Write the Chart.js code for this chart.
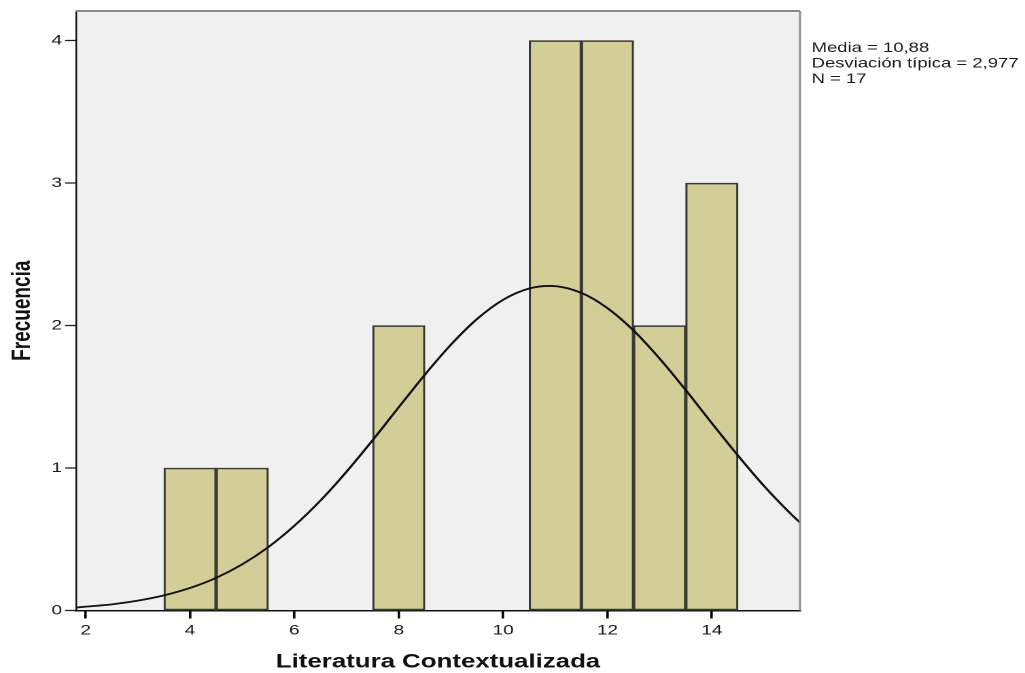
<!DOCTYPE html>
<html>
<head>
<meta charset="utf-8">
<script src="https://cdn.jsdelivr.net/npm/chart.js@4.4.1/dist/chart.umd.min.js"></script>
<style>
html,body{margin:0;padding:0;background:#ffffff;overflow:hidden;}
canvas{display:block;}
</style>
</head>
<body>
<canvas id="c" width="754" height="673" style="width:1025px;height:673px;"></canvas>
<script>
// ---- data ----
const binCenters = [4, 5, 8, 11, 12, 13, 14];
const frequencies = [1, 1, 2, 4, 4, 2, 3];
const curveX = [1.8, 2, 2.5, 3, 3.5, 4, 4.5, 5, 5.5, 6, 6.5, 7, 7.5, 8, 8.5, 9, 9.5, 10, 10.5, 10.9, 11.5, 12, 12.5, 13, 13.5, 14, 14.5, 15, 15.5, 15.7];
const curveY = [0.02, 0.027, 0.043, 0.069, 0.106, 0.158, 0.229, 0.324, 0.445, 0.595, 0.772, 0.975, 1.196, 1.427, 1.655, 1.866, 2.046, 2.181, 2.260, 2.278, 2.229, 2.122, 1.965, 1.768, 1.547, 1.315, 1.088, 0.874, 0.683, 0.614];
const xTickValues = [2, 4, 6, 8, 10, 12, 14];
const yTickValues = [0, 1, 2, 3, 4];
const xRange = [1.814, 15.69];
const yRange = [0, 4.208];
const statsLines = ['Media = 10,88', 'Desviación típica = 2,977', 'N = 17'];
const xTitle = 'Literatura Contextualizada';
const yTitle = 'Frecuencia';

const barData = binCenters.map((x, i) => ({x: x, y: frequencies[i]}));
const curveData = curveX.map((x, i) => ({x: x, y: curveY[i]}));

const plotBg = {
  id: 'plotBg',
  beforeDraw(chart) {
    const a = chart.chartArea, ctx = chart.ctx;
    ctx.save();
    ctx.fillStyle = '#f0f0f0';
    ctx.fillRect(a.left, a.top, a.right - a.left, a.bottom - a.top);
    ctx.restore();
  },
  afterDatasetsDraw(chart) {
    const a = chart.chartArea, ctx = chart.ctx;
    ctx.save();
    ctx.strokeStyle = '#8c8c8c';
    ctx.lineWidth = 2;
    ctx.beginPath();
    ctx.moveTo(a.left, a.top);
    ctx.lineTo(a.right, a.top);
    ctx.stroke();
    ctx.lineWidth = 1.5;
    ctx.beginPath();
    ctx.moveTo(a.right, a.top);
    ctx.lineTo(a.right, a.bottom);
    ctx.stroke();
    ctx.restore();
  },
  afterDraw(chart) {
    const ctx = chart.ctx;
    ctx.save();
    ctx.fillStyle = '#1a1a1a';
    ctx.font = '13.6px "Liberation Sans", Arial, sans-serif';
    ctx.textAlign = 'left';
    ctx.textBaseline = 'alphabetic';
    statsLines.forEach((t, i) => ctx.fillText(t, 597, 52 + i * 15.5));
    ctx.restore();
  }
};

new Chart(document.getElementById('c'), {
  type: 'bar',
  data: {
    datasets: [
      {
        type: 'line',
        data: curveData,
        borderColor: '#111111',
        borderWidth: 1.8,
        pointRadius: 0,
        fill: false,
        cubicInterpolationMode: 'monotone',
        order: 0
      },
      {
        type: 'bar',
        data: barData,
        backgroundColor: '#d3ce97',
        borderColor: '#3a3a32',
        borderWidth: 1.6,
        borderSkipped: false,
        barPercentage: 1,
        categoryPercentage: 1,
        order: 1
      }
    ]
  },
  options: {
    responsive: false,
    animation: false,
    devicePixelRatio: 2,
    layout: {padding: {left: 0, top: 11, right: 165.5, bottom: 0}},
    plugins: {legend: {display: false}, tooltip: {enabled: false}},
    scales: {
      x: {
        type: 'linear',
        offset: false,
        min: xRange[0],
        max: xRange[1],
        afterBuildTicks: s => { s.ticks = xTickValues.map(v => ({value: v})); },
        afterFit: s => { s.height = 62.5; },
        grid: {offset: false, display: true, drawOnChartArea: false, drawTicks: true, tickLength: 8, tickColor: '#000', tickWidth: 1.8, color: '#000', lineWidth: 1.8},
        border: {display: true, color: '#111', width: 1.5},
        ticks: {
          color: '#1a1a1a',
          padding: 5,
          maxRotation: 0,
          autoSkip: false,
          font: {family: '"Liberation Sans", Arial, sans-serif', size: 14, lineHeight: 1},
          callback: v => String(v)
        },
        title: {
          display: true,
          text: xTitle,
          color: '#111',
          padding: {top: 0, bottom: 1},
          font: {family: '"Liberation Sans", Arial, sans-serif', size: 19, weight: 'bold', lineHeight: 1}
        }
      },
      y: {
        type: 'linear',
        min: yRange[0],
        max: yRange[1],
        afterBuildTicks: s => { s.ticks = yTickValues.map(v => ({value: v})); },
        afterFit: s => { s.width = 55.9; },
        grid: {drawOnChartArea: false, drawTicks: true, tickLength: 8, tickColor: '#222', tickWidth: 1.3},
        border: {display: true, color: '#111', width: 1.2},
        ticks: {
          color: '#1a1a1a',
          padding: 2.3,
          autoSkip: false,
          font: {family: '"Liberation Sans", Arial, sans-serif', size: 14, lineHeight: 1},
          callback: v => String(v)
        },
        title: {
          display: true,
          text: yTitle,
          color: '#111',
          padding: {top: 7.3, bottom: 0},
          font: {family: '"Liberation Sans", Arial, sans-serif', size: 19, weight: 'bold', lineHeight: 1}
        }
      }
    }
  },
  plugins: [plotBg]
});
</script>
</body>
</html>
